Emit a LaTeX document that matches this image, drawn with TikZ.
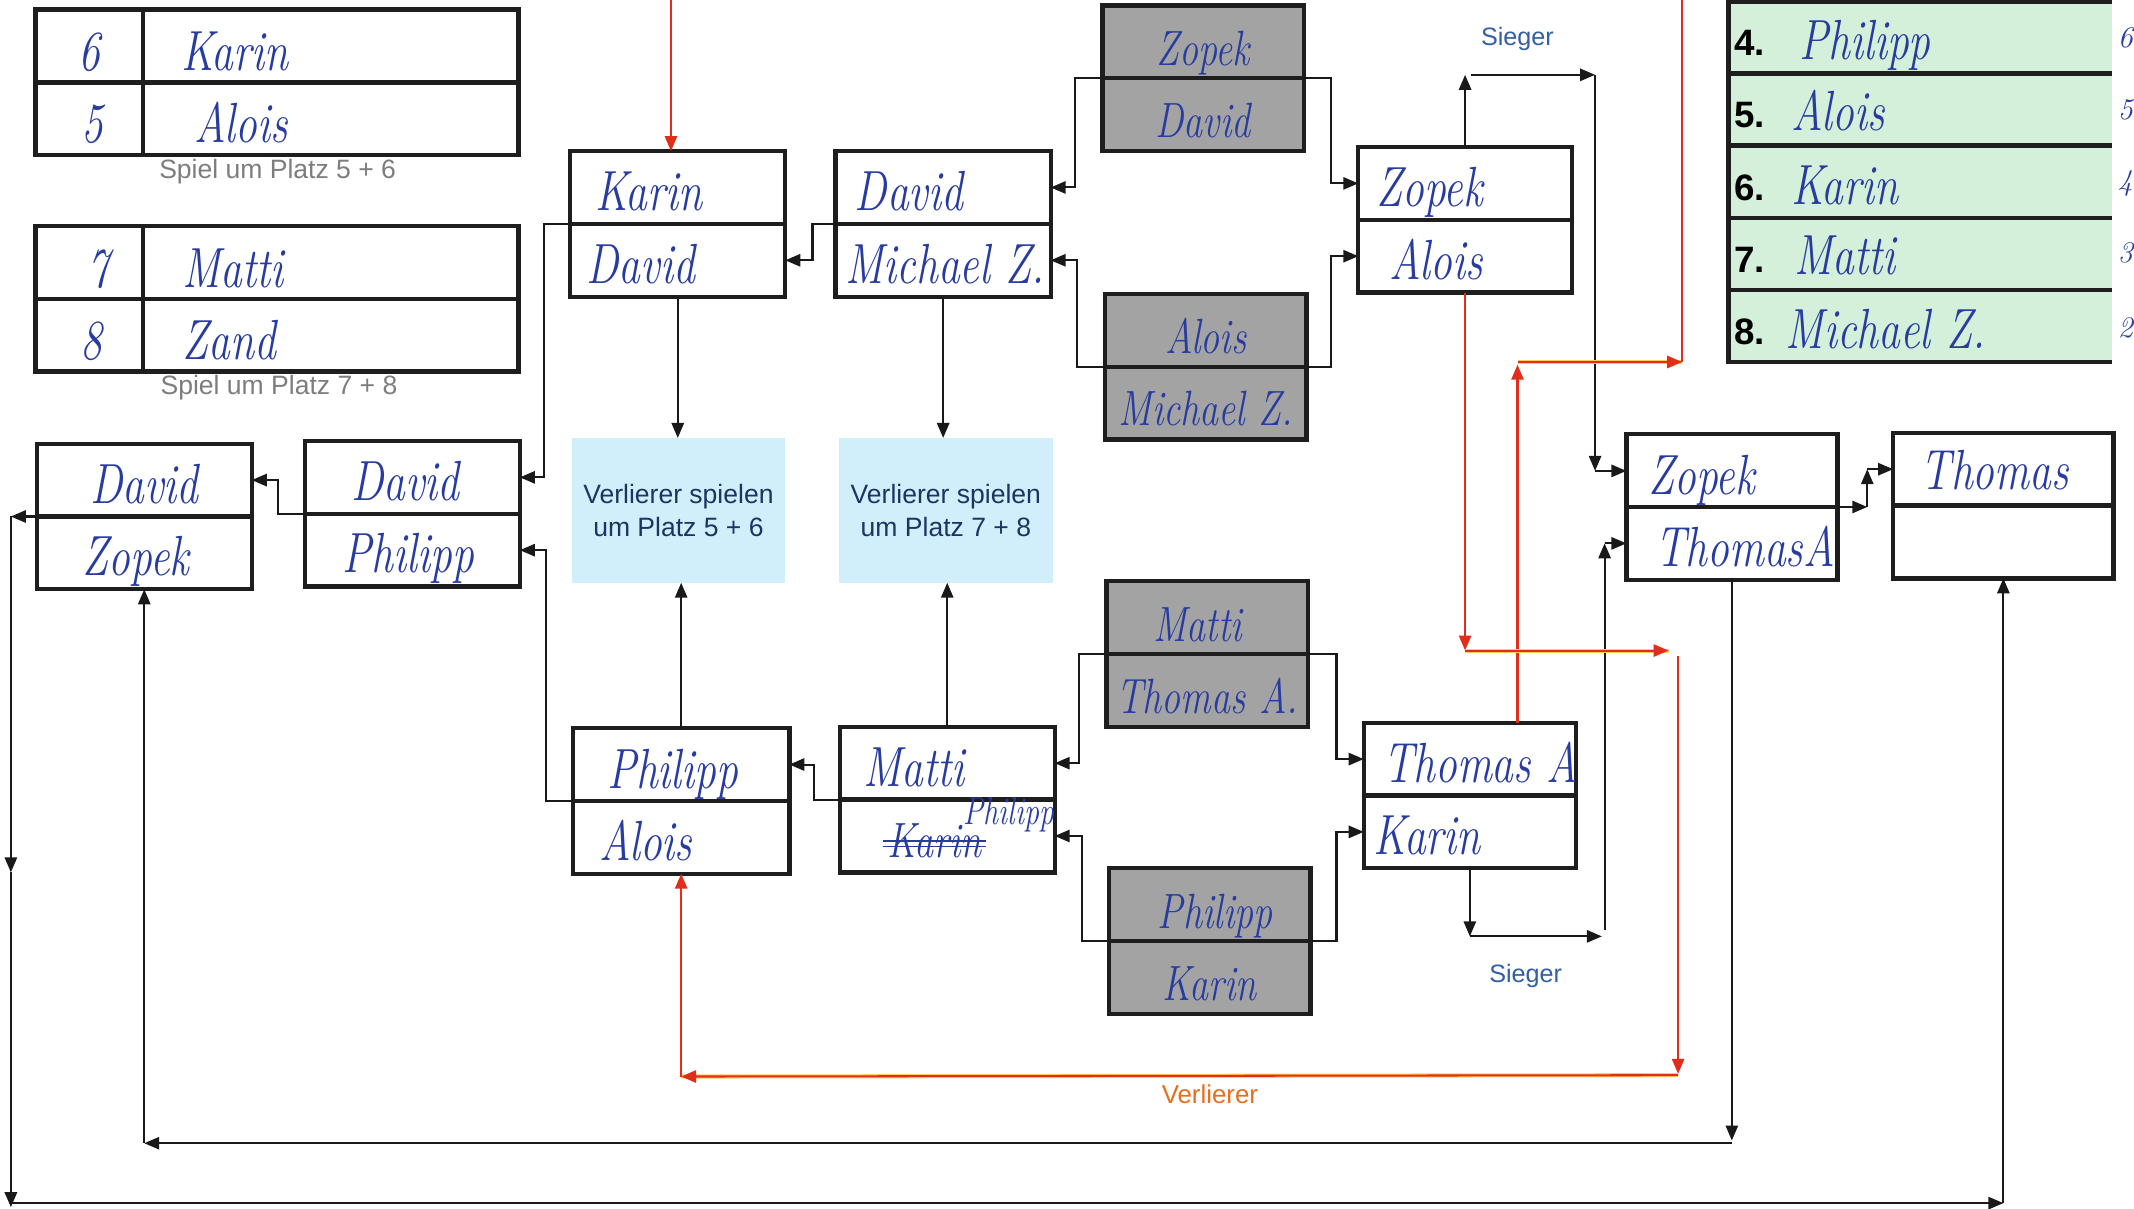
\documentclass[tikz,border=0pt]{standalone}
\usepackage{fontspec}
\setsansfont{Liberation Sans}
\usepackage{graphicx}
\usetikzlibrary{arrows.meta,calc}
\definecolor{ink}{RGB}{40,60,160}
\definecolor{grayfill}{RGB}{163,163,163}
\definecolor{bluefill}{RGB}{208,239,250}
\definecolor{greenfill}{RGB}{212,240,218}
\definecolor{navy}{RGB}{30,50,100}
\definecolor{siegerblue}{RGB}{50,95,165}
\definecolor{capgray}{RGB}{125,125,125}
\definecolor{redline}{RGB}{225,45,25}
\definecolor{verlorange}{RGB}{232,110,30}
\definecolor{glowc}{RGB}{255,205,90}
\definecolor{boxline}{RGB}{30,30,30}
\newcommand\hw[1]{\scalebox{1}[1.3]{#1}}
\newcommand\twobox[5]{%
  \node[#5, minimum width=#4pt, anchor=north west] (#1a) at (#2,#3) {};
  \node[#5, minimum width=#4pt, anchor=north west] (#1b) at (#2,#3+53.5) {};}
\begin{document}
\begin{tikzpicture}[x=1pt,y=-1pt,
  cell/.style={draw=boxline, line width=3.2pt, minimum height=53.5pt, inner sep=0pt, outer sep=0pt, fill=white},
  gcell/.style={cell, fill=grayfill},
  bcell/.style={fill=bluefill, inner sep=0pt, minimum width=157pt, minimum height=106pt, align=center,
    font=\sffamily\fontsize{19.5}{24}\selectfont, text=navy},
  greenrow/.style={fill=greenfill, inner sep=0pt, outer sep=0pt, minimum width=282pt, anchor=north west},
  hand/.style={text=ink, font=\itshape\fontsize{32}{32}\selectfont, inner sep=0pt, anchor=base west},
  handc/.style={hand, anchor=base},
  handg/.style={handc, font=\itshape\fontsize{28}{28}\selectfont},
  rank/.style={font=\sffamily\bfseries\fontsize{27}{27}\selectfont, inner sep=0pt, anchor=base west},
  siegerlbl/.style={font=\sffamily\fontsize{18.5}{18.5}\selectfont, text=siegerblue, inner sep=0pt},
  verllbl/.style={font=\sffamily\fontsize{19}{19}\selectfont, text=verlorange, inner sep=0pt},
  caption/.style={font=\sffamily\fontsize{19.5}{19.5}\selectfont, text=capgray, inner sep=0pt},
  conn/.style={draw=black!90, line width=1.5pt, -{Triangle[length=11pt,width=9pt]}},
  plain/.style={draw=black!90, line width=1.5pt},
  rconn/.style={draw=redline, line width=1.5pt, -{Triangle[length=11pt,width=9pt]}},
  rplain/.style={draw=redline, line width=1.5pt},
  glow/.style={draw=glowc, line width=3pt, yshift=2pt}
]
\useasboundingbox (0,0) rectangle (1568,888);
\fill[white] (0,0) rectangle (1568,888);

% ---------- placement tables (top left) ----------
\node[cell, minimum width=79pt, anchor=north west] (ta1) at (26,7) {};
\node[cell, minimum width=79pt, anchor=north west] (ta2) at (26,60.5) {};
\node[cell, minimum width=276pt, anchor=north west] (ta3) at (105,7) {};
\node[cell, minimum width=276pt, anchor=north west] (ta4) at (105,60.5) {};
\node[handc] (xa1) at (66,52) {\hw{6}};
\node[hand] (xa2) at (133,52) {\hw{Karin}};
\node[handc] (xa3) at (68,105) {\hw{5}};
\node[hand] (xa4) at (143,105) {\hw{Alois}};
\node[caption] (cap1) at (204,126) {Spiel um Platz 5 + 6};

\node[cell, minimum width=79pt, anchor=north west] (tb1) at (26,166) {};
\node[cell, minimum width=79pt, anchor=north west] (tb2) at (26,219.5) {};
\node[cell, minimum width=276pt, anchor=north west] (tb3) at (105,166) {};
\node[cell, minimum width=276pt, anchor=north west] (tb4) at (105,219.5) {};
\node[handc] (xb1) at (72,211) {\hw{7}};
\node[hand] (xb2) at (134,211) {\hw{Matti}};
\node[handc] (xb3) at (67,264) {\hw{8}};
\node[hand] (xb4) at (134,264) {\hw{Zand}};
\node[caption] (cap2) at (205,285) {Spiel um Platz 7 + 8};

% ---------- ranking table (top right) ----------
\node[greenrow, minimum height=53pt] (g4) at (1270,1) {};
\node[greenrow, minimum height=53pt] (g5) at (1270,54) {};
\node[greenrow, minimum height=53pt] (g6) at (1270,107) {};
\node[greenrow, minimum height=53pt] (g7) at (1270,160) {};
\node[greenrow, minimum height=53pt] (g8) at (1270,213) {};
\foreach \yy in {1,54,107,160,213,266} {\draw[boxline, line width=3.2pt] (1270,\yy) -- (1552,\yy);}
\draw[boxline, line width=3.2pt] (1270,-2) -- (1270,267.6);
\node[rank] (n4) at (1274,41) {4.};
\node[rank] (n5) at (1274,94) {5.};
\node[rank] (n6) at (1274,147) {6.};
\node[rank] (n7) at (1274,200) {7.};
\node[rank] (n8) at (1274,253) {8.};
\node[hand] (m4) at (1322,44) {\hw{Philipp}};
\node[hand] (m5) at (1316,96) {\hw{Alois}};
\node[hand] (m6) at (1316,150) {\hw{Karin}};
\node[hand] (m7) at (1318,202) {\hw{Matti}};
\node[hand] (m8) at (1312,256) {\hw{Michael Z.}};
\node[hand, font=\itshape\fontsize{22}{22}\selectfont] (k6) at (1556,35) {6};
\node[hand, font=\itshape\fontsize{22}{22}\selectfont] (k5) at (1556,88) {5};
\node[hand, font=\itshape\fontsize{22}{22}\selectfont] (k4) at (1556,140) {4};
\node[hand, font=\itshape\fontsize{22}{22}\selectfont] (k3) at (1556,193) {3};
\node[hand, font=\itshape\fontsize{22}{22}\selectfont] (k2) at (1556,248) {2};

% ---------- match boxes ----------
\twobox{KD}{419}{111}{158}{cell}
\twobox{DM}{614}{111}{158}{cell}
\twobox{GA}{810}{4}{148}{gcell}
\twobox{GB}{812}{216}{148}{gcell}
\twobox{ZA}{998}{108}{157}{cell}
\twobox{DZ}{27}{326}{158}{cell}
\twobox{DP}{224}{324}{158}{cell}
\twobox{GC}{813}{427}{148}{gcell}
\twobox{PA}{421}{535}{159}{cell}
\twobox{MP}{617}{534}{158}{cell}
\twobox{GD}{815}{638}{148}{gcell}
\twobox{TK}{1002}{531}{156}{cell}
\twobox{ZT}{1195}{319}{155}{cell}
\twobox{TH}{1391}{318}{162}{cell}
\node[bcell] (v56) at (498.5,375) {Verlierer spielen\\um Platz 5 + 6};
\node[bcell] (v78) at (695,375) {Verlierer spielen\\um Platz 7 + 8};

% ---------- handwritten names ----------
\node[hand] (tKD1) at (437,155) {\hw{Karin}};
\node[hand] (tKD2) at (431,208) {\hw{David}};
\node[hand] (tDM1) at (628,155) {\hw{David}};
\node[hand] (tDM2) at (621,208) {\hw{Michael Z.}};
\node[handg] (tGA1) at (884,48) {\hw{Zopek}};
\node[handg] (tGA2) at (884,101) {\hw{David}};
\node[handg] (tGB1) at (886,260) {\hw{Alois}};
\node[handg] (tGB2) at (886,313) {\hw{Michael Z.}};
\node[hand] (tZA1) at (1011,152) {\hw{Zopek}};
\node[hand] (tZA2) at (1021,205) {\hw{Alois}};
\node[handc] (tDZ1) at (106,370) {\hw{David}};
\node[handc] (tDZ2) at (100,423) {\hw{Zopek}};
\node[handc] (tDP1) at (298,368) {\hw{David}};
\node[handc] (tDP2) at (300,421) {\hw{Philipp}};
\node[handg] (tGC1) at (880,471) {\hw{Matti}};
\node[handg] (tGC2) at (887,524) {\hw{Thomas A.}};
\node[hand] (tPA1) at (446,579) {\hw{Philipp}};
\node[hand] (tPA2) at (440,632) {\hw{Alois}};
\node[hand] (tMP1) at (634,578) {\hw{Matti}};
\node[hand, font=\itshape\fontsize{28}{28}\selectfont] (tMP2) at (652,630) {\hw{Karin}};
\node[hand, font=\itshape\fontsize{22}{22}\selectfont] (tMP3) at (708,606) {\hw{Philipp}};
\draw[ink, line width=1.2pt] ($(tMP2.base west)+(-3,-8)$) -- ($(tMP2.base east)+(3,-8)$);
\draw[ink, line width=1.2pt] ($(tMP2.base west)+(-3,-12)$) -- ($(tMP2.base east)+(3,-12)$);
\node[handg] (tGD1) at (893,682) {\hw{Philipp}};
\node[handg] (tGD2) at (889,735) {\hw{Karin}};
\node[hand] (tTK1) at (1016,575) {\hw{Thomas A}};
\node[hand] (tTK2) at (1009,628) {\hw{Karin}};
\node[hand] (tZT1) at (1211,363) {\hw{Zopek}};
\node[hand] (tZT2) at (1216,416) {\hw{ThomasA}};
\node[hand] (tTH1) at (1411,360) {\hw{Thomas}};

% ---------- labels ----------
\node[siegerlbl] (sg1) at (1115,29) {Sieger};
\node[siegerlbl] (sg2) at (1121,717) {Sieger};
\node[verllbl] (vl) at (889,804) {Verlierer};

% ---------- black connectors ----------
\draw[conn] (GAa.south west) -- ++(-20,0) |- (DMa.east);
\draw[conn] (GBa.south west) -- ++(-21,0) |- (DMb.east);
\draw[conn] (GAa.south east) -- ++(20,0) |- (ZAa.west);
\draw[conn] (GBa.south east) -- ++(18,0) |- (ZAb.west);
\draw[conn] (DMa.south west) -- ++(-17,0) |- (KDb.east);
\draw[conn] (KDa.south west) -- ++(-19,0) |- (DPa.east);
\draw[conn] (KDb.south) -- (KDb.south |- v56.north);
\draw[conn] (DMb.south) -- (DMb.south |- v78.north);
\draw[conn] (PAa.north) -- (PAa.north |- v56.south);
\draw[conn] (MPa.north) -- (MPa.north |- v78.south);
\draw[conn] (PAa.south west) -- ++(-20,0) |- (DPb.east);
\draw[conn] (DPa.south west) -- ++(-20,0) |- (DZa.east);
\draw[conn] (MPa.south west) -- ++(-19,0) |- (PAa.east);
\draw[conn] (GCa.south west) -- ++(-20,0) |- (MPa.east);
\draw[conn] (GDa.south west) -- ++(-20,0) |- (MPb.east);
\draw[conn] (GCa.south east) -- ++(21,0) |- (TKa.west);
\draw[conn] (GDa.south east) -- ++(19,0) |- (TKb.west);

% outer loop (left, bottom)
\coordinate (la) at (8,379.5);
\coordinate (lb) at (8,641);
\coordinate (lc) at (8,887);
\coordinate (lc2) at (8,884);
\coordinate (ld) at (1472,884);
\draw[conn] (DZa.south west) -- (la);
\draw[conn] (la) -- (lb);
\draw[conn] (lb) -- (lc);
\draw[conn] (lc2) -- (ld);
\draw[conn] (ld) -- (THb.south);

% inner loop
\coordinate (ma) at (1272.5,838);
\coordinate (mb) at (106,840);
\coordinate (mb2) at (1272.5,840);
\draw[conn] (ZTb.south) -- (ma);
\draw[conn] (mb2) -- (mb);
\draw[conn] (mb) -- (DZb.south);

% Sieger (top)
\coordinate (s1) at (1076.5,55);
\coordinate (s2) at (1081,55);
\coordinate (s3) at (1172,55);
\coordinate (s4) at (1172,346);
\draw[conn] (ZAa.north) -- (s1);
\draw[conn] (s2) -- (s3);
\draw[conn] (s3) -- (s4);
\draw[conn] (s4) -- (s4 -| ZTa.west);

% Sieger (bottom)
\coordinate (t1) at (1080,688);
\coordinate (t2) at (1177,688);
\coordinate (t3) at (1179,683);
\coordinate (t4) at (1179,399.25);
\draw[conn] (TKb.south) -- (t1);
\draw[conn] (t1) -- (t2);
\draw[conn] (t3) -- (t4);
\draw[conn] (t4) -- (ZTb.west);

% final
\coordinate (f1) at (1372,372.5);
\coordinate (f2) at (1372,344.75);
\draw[conn] (ZTa.south east) -- (f1);
\draw[conn] (f1) -- (f2);
\draw[conn] (f2) -- (THa.west);

% ---------- red connectors ----------
\coordinate (rt) at (493,-2);
\draw[rconn] (rt) -- (rt |- KDa.north);

\coordinate (r1) at (1115,268);
\coordinate (r1b) at (1115,266);
\coordinate (r2) at (1236,266);
\coordinate (r3) at (1236,-2);
\draw[rconn] (r1 |- TKa.north) -- (r1);
\draw[glow] (r1b) -- (r2);
\draw[rconn] (r1b) -- (r2);
\draw[rplain] (r2) -- (r3);

\coordinate (q1) at (1076.5,478);
\coordinate (q2) at (1226,478);
\coordinate (q3) at (1233,482);
\coordinate (q4) at (1233,789);
\coordinate (q4b) at (1233,790);
\coordinate (q5) at (500.5,791);
\draw[rconn] (ZAb.south) -- (q1);
\draw[glow] (q1) -- (q2);
\draw[rconn] (q1) -- (q2);
\draw[rconn] (q3) -- (q4);
\draw[glow] (q4b) -- (q5);
\draw[rconn] (q4b) -- (q5);
\draw[rconn] (q5) -- (PAb.south);
\end{tikzpicture}
\end{document}
